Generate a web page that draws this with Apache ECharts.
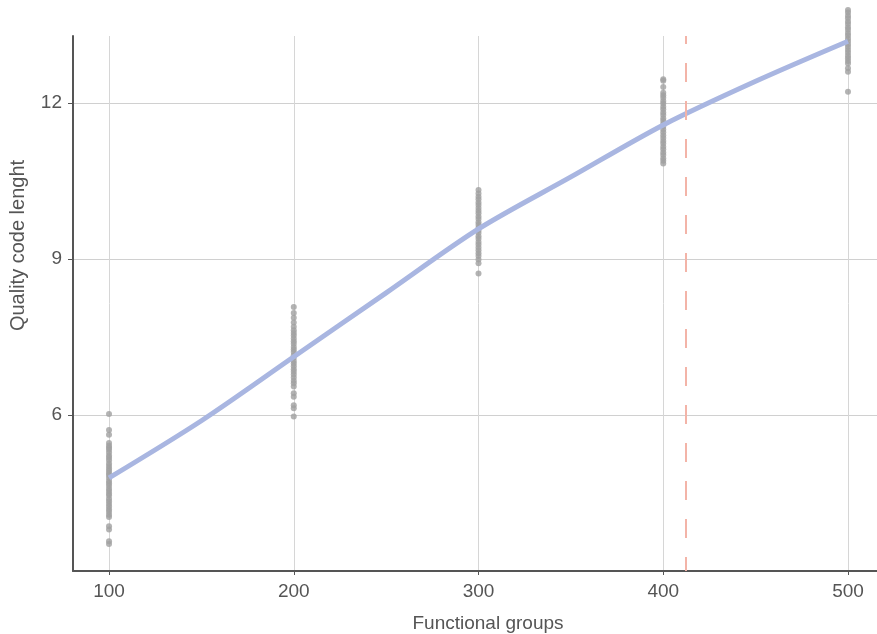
<!DOCTYPE html>
<html>
<head>
<meta charset="utf-8">
<script src="https://cdn.jsdelivr.net/npm/echarts@6/dist/echarts.min.js"></script>
<style>
  html, body { margin: 0; padding: 0; background: #fff; }
  #chart { width: 877px; height: 634px; }
</style>
</head>
<body>
<div id="chart"></div>
<script>
// Functional group sizes and the observed quality code lengths per group
const groups = [100, 200, 300, 400, 500];
const len100 = [6.02, 5.71, 5.62, 5.46, 5.41, 5.37, 5.33, 5.28, 5.22, 5.18, 5.13, 5.07, 5.02, 4.97, 4.93, 4.88, 4.84, 4.79, 4.73, 4.69, 4.64, 4.58, 4.54, 4.49, 4.45, 4.39, 4.34, 4.29, 4.24, 4.19, 4.14, 4.08, 4.04, 3.86, 3.80, 3.57, 3.52];
const len200 = [8.08, 7.96, 7.87, 7.78, 7.70, 7.63, 7.58, 7.53, 7.47, 7.42, 7.37, 7.31, 7.26, 7.21, 7.15, 7.10, 7.04, 6.99, 6.94, 6.88, 6.83, 6.78, 6.72, 6.66, 6.61, 6.55, 6.42, 6.35, 6.19, 6.13, 5.97];
const len300 = [10.33, 10.26, 10.20, 10.15, 10.09, 10.04, 9.98, 9.93, 9.88, 9.82, 9.77, 9.71, 9.66, 9.60, 9.55, 9.50, 9.44, 9.39, 9.33, 9.28, 9.22, 9.17, 9.11, 9.06, 8.99, 8.92, 8.72];
const len400 = [12.46, 12.43, 12.31, 12.20, 12.15, 12.10, 12.04, 11.99, 11.93, 11.88, 11.82, 11.77, 11.71, 11.66, 11.60, 11.55, 11.49, 11.44, 11.38, 11.33, 11.27, 11.22, 11.16, 11.11, 11.05, 11.00, 10.94, 10.89, 10.84];
const len500 = [13.79, 13.74, 13.68, 13.63, 13.57, 13.52, 13.46, 13.41, 13.35, 13.30, 13.24, 13.19, 13.13, 13.08, 13.02, 12.97, 12.91, 12.86, 12.81, 12.76, 12.67, 12.60, 12.22];

// Smoothed trend
const fitX = [100, 150, 200, 250, 300, 350, 400, 450, 500];
const fitY = [4.79, 5.89, 7.12, 8.35, 9.58, 10.58, 11.58, 12.42, 13.19];

// Threshold marker on the x axis
const thresholdX = 412.3;

// Axis ticks
const xTicks = [100, 200, 300, 400, 500];
const yTicks = [6, 9, 12];

const groupLengths = [len100, len200, len300, len400, len500];
const scatterData = [];
groups.forEach((g, i) => groupLengths[i].forEach(v => scatterData.push([g, v])));
const fitData = fitX.map((x, i) => [x, fitY[i]]);

const textColor = '#555';
const fontFamily = '"Liberation Sans", Arial, Helvetica, sans-serif';

const chart = echarts.init(document.getElementById('chart'), null, { renderer: 'canvas' });
chart.setOption({
  animation: false,
  backgroundColor: '#fff',
  grid: { left: 73, right: 0, top: 36, bottom: 63, containLabel: false, outerBoundsMode: 'none' },
  xAxis: {
    type: 'value',
    min: 80.5,
    max: 515.7,
    name: 'Functional groups',
    nameLocation: 'middle',
    nameGap: 43,
    nameTextStyle: { color: textColor, fontSize: 19, fontFamily: fontFamily, padding: [0, 0, 0, 26] },
    axisLine: { show: true, onZero: false, lineStyle: { color: '#555', width: 2 } },
    axisTick: { show: true, customValues: xTicks, length: 4, lineStyle: { color: '#555', width: 1 } },
    axisLabel: { customValues: xTicks, color: textColor, fontSize: 19, fontFamily: fontFamily, margin: 11 },
    splitLine: { show: true, lineStyle: { color: '#d6d6d6', width: 1 } }
  },
  yAxis: {
    type: 'value',
    min: 3,
    max: 13.29,
    name: 'Quality code lenght',
    nameLocation: 'middle',
    nameRotate: 90,
    nameGap: 45,
    nameTextStyle: { color: textColor, fontSize: 20, fontFamily: fontFamily, padding: [0, 0, 0, 116] },
    axisLine: { show: true, onZero: false, lineStyle: { color: '#555', width: 2 } },
    axisTick: { show: true, customValues: yTicks, length: 5, lineStyle: { color: '#555', width: 1 } },
    axisLabel: { customValues: yTicks, color: textColor, fontSize: 19, fontFamily: fontFamily, margin: 11 },
    splitLine: { show: true, lineStyle: { color: '#d0d0d0', width: 1 } }
  },
  series: [
    {
      type: 'scatter',
      data: scatterData,
      symbolSize: 6,
      clip: false,
      itemStyle: { color: '#a0a0a0', opacity: 0.8 },
      z: 2
    },
    {
      type: 'line',
      data: fitData,
      smooth: 0.3,
      showSymbol: false,
      symbol: 'none',
      lineStyle: { color: '#a9b6e1', width: 5 },
      z: 3
    },
    {
      type: 'line',
      data: [],
      z: 4,
      markLine: {
        silent: true,
        symbol: ['none', 'none'],
        label: { show: false },
        lineStyle: { color: '#f3b4a8', width: 2, type: [19, 19], dashOffset: 5 },
        data: [{ xAxis: thresholdX }]
      }
    }
  ]
});
</script>
</body>
</html>
